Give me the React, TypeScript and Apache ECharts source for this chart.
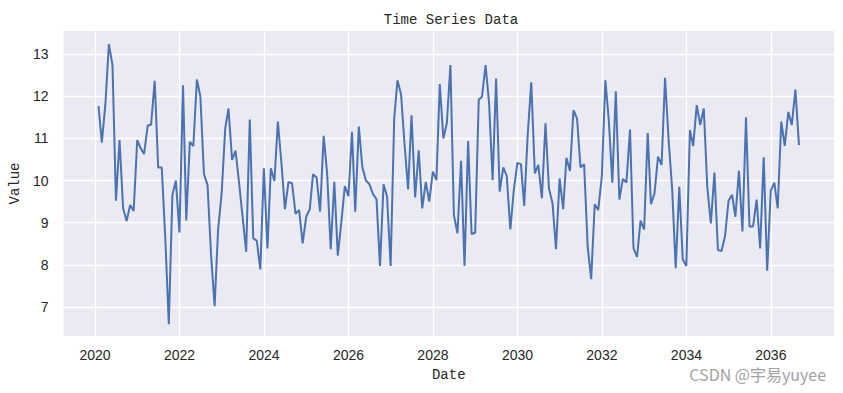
import React, { useEffect, useRef } from "react";
import * as echarts from "echarts";

// Monthly values (month-end dates starting 2020-01)
const VALUES: number[] = [
  11.77, 10.9, 11.83, 13.24, 12.74, 9.52, 10.96, 9.34, 9.04, 9.42,
  9.28, 10.96, 10.76, 10.63, 11.3, 11.33, 12.37, 10.31, 10.31, 8.6,
  6.59, 9.66, 10.0, 8.77, 12.26, 9.05, 10.92, 10.82, 12.4, 11.99,
  10.15, 9.89, 8.25, 7.02, 8.83, 9.7, 11.24, 11.71, 10.49, 10.71,
  9.93, 9.14, 8.31, 11.45, 8.63, 8.57, 7.89, 10.29, 8.39, 10.29,
  9.99, 11.4, 10.41, 9.32, 9.97, 9.93, 9.21, 9.3, 8.51, 9.14,
  9.32, 10.15, 10.07, 9.26, 11.06, 10.17, 8.37, 9.97, 8.22, 9.02,
  9.87, 9.63, 11.16, 9.26, 11.28, 10.33, 10.0, 9.92, 9.68, 9.56,
  7.97, 9.91, 9.62, 7.97, 11.47, 12.38, 12.05, 10.88, 9.79, 11.55,
  9.6, 10.72, 9.34, 9.97, 9.5, 10.21, 10.01, 12.29, 11.0, 11.36,
  12.74, 9.18, 8.75, 10.47, 7.97, 10.94, 8.73, 8.76, 11.92, 11.99,
  12.74, 11.85, 10.01, 12.42, 9.74, 10.31, 10.11, 8.84, 9.77, 10.42,
  10.39, 9.4, 11.12, 12.33, 10.17, 10.37, 9.58, 11.36, 9.81, 9.46,
  8.37, 10.05, 9.32, 10.54, 10.23, 11.67, 11.47, 10.31, 10.39, 8.43,
  7.66, 9.44, 9.3, 10.09, 12.38, 11.45, 9.95, 12.12, 9.55, 10.04,
  9.95, 11.21, 8.39, 8.19, 9.05, 8.84, 11.13, 9.44, 9.7, 10.57,
  10.37, 12.44, 10.96, 9.77, 7.92, 9.85, 8.13, 7.97, 11.2, 10.82,
  11.79, 11.32, 11.71, 9.85, 8.98, 10.19, 8.35, 8.33, 8.67, 9.52,
  9.66, 9.14, 10.23, 8.79, 11.5, 8.91, 8.91, 9.55, 8.39, 10.55,
  7.86, 9.76, 9.95, 9.34, 11.4, 10.82, 11.63, 11.32, 12.16, 10.84,
];

const START_YEAR = 2020;
const START_MONTH = 0; // January
const X_TICK_YEARS: number[] = [2020, 2022, 2024, 2026, 2028, 2030, 2032, 2034, 2036];
const Y_TICKS: number[] = [7, 8, 9, 10, 11, 12, 13];
const Y_MIN = 6.31;
const Y_MAX = 13.55;

const TITLE = "Time Series Data";
const X_NAME = "Date";
const Y_NAME = "Value";
const WATERMARK = "CSDN @宇易yuyee";

// month-end dates
const DATES: number[] = VALUES.map((_, i) => Date.UTC(START_YEAR, START_MONTH + i + 1, 0));
const X_SPAN = DATES[DATES.length - 1] - DATES[0];
const X_MIN = DATES[0] - 0.05 * X_SPAN;
const X_MAX = DATES[DATES.length - 1] + 0.05 * X_SPAN;
const X_TICK_VALUES = X_TICK_YEARS.map((y) => Date.UTC(y, 0, 1));

export default function App() {
  const ref = useRef<HTMLDivElement>(null);

  useEffect(() => {
    document.body.style.margin = "0";
    if (!ref.current) return;
    const chart = echarts.init(ref.current, undefined, { renderer: "svg" });
    const tickFont = {
      color: "#262626",
      fontFamily: "Liberation Sans",
      fontSize: 14,
    };
    chart.setOption({
      animation: false,
      backgroundColor: "#ffffff",
      title: {
        text: TITLE,
        left: 446,
        top: 8,
        textAlign: "center",
        textStyle: {
          color: "#262626",
          fontFamily: "Liberation Mono",
          fontWeight: "normal",
          fontSize: 14,
        },
      },
      grid: {
        left: 59,
        top: 31,
        width: 775,
        height: 305,
        show: true,
        backgroundColor: "#EAEAF2",
        borderWidth: 0,
        containLabel: false,
      },
      xAxis: {
        type: "value",
        min: X_MIN,
        max: X_MAX,
        name: X_NAME,
        nameLocation: "middle",
        nameGap: 32,
        nameTextStyle: {
          color: "#262626",
          fontFamily: "Liberation Mono",
          fontSize: 14,
        },
        axisLine: { show: false },
        axisTick: { show: false, customValues: X_TICK_VALUES },
        axisLabel: {
          ...tickFont,
          margin: 12,
          customValues: X_TICK_VALUES,
          formatter: (v: number) => String(new Date(v).getUTCFullYear()),
        },
        splitLine: { show: true, lineStyle: { color: "#ffffff", width: 1.3 } },
      },
      yAxis: {
        type: "value",
        min: Y_MIN,
        max: Y_MAX,
        name: Y_NAME,
        nameLocation: "middle",
        nameGap: 40,
        nameRotate: 90,
        nameTextStyle: {
          color: "#262626",
          fontFamily: "Liberation Mono",
          fontSize: 14,
        },
        axisLine: { show: false },
        axisTick: { show: false, customValues: Y_TICKS },
        axisLabel: {
          ...tickFont,
          margin: 15,
          customValues: Y_TICKS,
          formatter: (v: number) => String(Math.round(v)),
        },
        splitLine: { show: true, lineStyle: { color: "#ffffff", width: 1.3 } },
      },
      graphic: [
        {
          type: "text",
          right: 17,
          top: 366,
          silent: true,
          style: {
            text: WATERMARK,
            fill: "#a3a3a3",
            fontFamily: "Noto Sans CJK SC",
            fontSize: 16,
          },
        },
      ],
      series: [
        {
          type: "line",
          data: DATES.map((d, i) => [d, VALUES[i]]),
          showSymbol: false,
          symbol: "none",
          lineStyle: { color: "#4C72B0", width: 2 },
          itemStyle: { color: "#4C72B0" },
        },
      ],
    });
    return () => chart.dispose();
  }, []);

  return <div ref={ref} style={{ width: 843, height: 393 }} />;
}
